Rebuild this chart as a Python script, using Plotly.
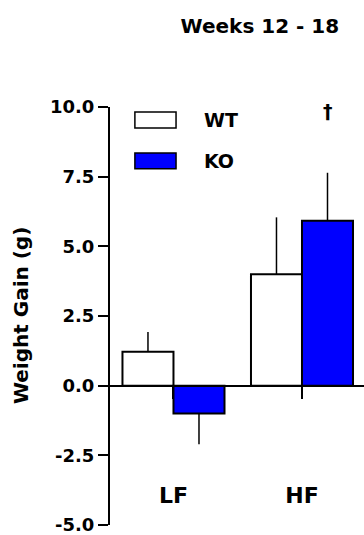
import plotly.graph_objects as go

# ---- data ----
groups = ["LF", "HF"]
group_pos = [0, 1]
wt_mean = [1.22, 4.0]
wt_err_up = [0.71, 2.04]
wt_err_dn = [0, 0]
ko_mean = [-1.0, 5.92]
ko_err_up = [0, 1.72]
ko_err_dn = [1.1, 0]
y_tickvals = [-5, -2.5, 0, 2.5, 5, 7.5, 10]
y_ticktext = ["-5.0", "-2.5", "0.0", "2.5", "5.0", "7.5", "10.0"]
series_names = ["WT", "KO"]

FONT = "DejaVu Sans"
BAR_W = 0.397

fig = go.Figure()
fig.add_trace(go.Bar(
    x=group_pos, y=wt_mean, name=series_names[0], width=BAR_W, offset=-BAR_W,
    marker=dict(color="white", line=dict(color="black", width=2)),
    error_y=dict(type="data", symmetric=False, array=wt_err_up, arrayminus=wt_err_dn,
                 color="black", thickness=1.5, width=0),
    showlegend=False,
))
fig.add_trace(go.Bar(
    x=group_pos, y=ko_mean, name=series_names[1], width=BAR_W, offset=0,
    marker=dict(color="#0000FF", line=dict(color="black", width=2)),
    error_y=dict(type="data", symmetric=False, array=ko_err_up, arrayminus=ko_err_dn,
                 color="black", thickness=1.5, width=0),
    showlegend=False,
))

# manual legend
legend_items = [(series_names[0], "white", 0.988, 0.950), (series_names[1], "#0000FF", 0.890, 0.852)]
for name, col, y1, y0 in legend_items:
    fig.add_shape(type="rect", xref="paper", yref="paper", x0=0.098, x1=0.260, y0=y0, y1=y1,
                  fillcolor=col, line=dict(color="black", width=1.5))
    fig.add_annotation(xref="paper", yref="paper", x=0.362, y=(y0 + y1) / 2, text=name,
                       showarrow=False, xanchor="left", yanchor="middle",
                       font=dict(family=FONT, size=19, color="black", weight="bold"))

# significance dagger above KO HF bar
fig.add_annotation(x=group_pos[1] + BAR_W / 2, y=9.85, text="†", showarrow=False,
                   font=dict(family=FONT, size=19, color="black", weight="bold"))

# y-axis title
fig.add_annotation(xref="paper", yref="paper", x=-0.35, y=0.50, text="Weight Gain (g)",
                   textangle=-90, showarrow=False, xanchor="center", yanchor="middle",
                   font=dict(family=FONT, size=20, color="black", weight="bold"))

fig.update_layout(
    width=364, height=535,
    margin=dict(l=110, r=0, t=107, b=10),
    plot_bgcolor="white", paper_bgcolor="white",
    barmode="overlay",
    title=dict(text="Weeks 12 - 18", x=0.714, y=1 - 26 / 535, xanchor="center", yanchor="middle",
               xref="container", yref="container",
               font=dict(family=FONT, size=20, color="black", weight="bold")),
    xaxis=dict(range=[-0.494, 1.4825], anchor="free", position=1 / 3,
               showline=True, linecolor="black", linewidth=2,
               tickvals=group_pos, ticktext=groups, ticks="outside", ticklen=12,
               tickwidth=1.5, tickcolor="black", ticklabelstandoff=78,
               showgrid=False, zeroline=False,
               tickfont=dict(family=FONT, size=22, color="black", weight="bold")),
    yaxis=dict(range=[-5, 10], tickvals=y_tickvals, ticktext=y_ticktext,
               showline=True, linecolor="black", linewidth=2,
               ticks="outside", ticklen=10, tickwidth=2, tickcolor="black",
               showgrid=False, zeroline=False, ticklabeloverflow="allow",
               tickfont=dict(family=FONT, size=18, color="black", weight="bold")),
)

fig.write_html("out.html")
